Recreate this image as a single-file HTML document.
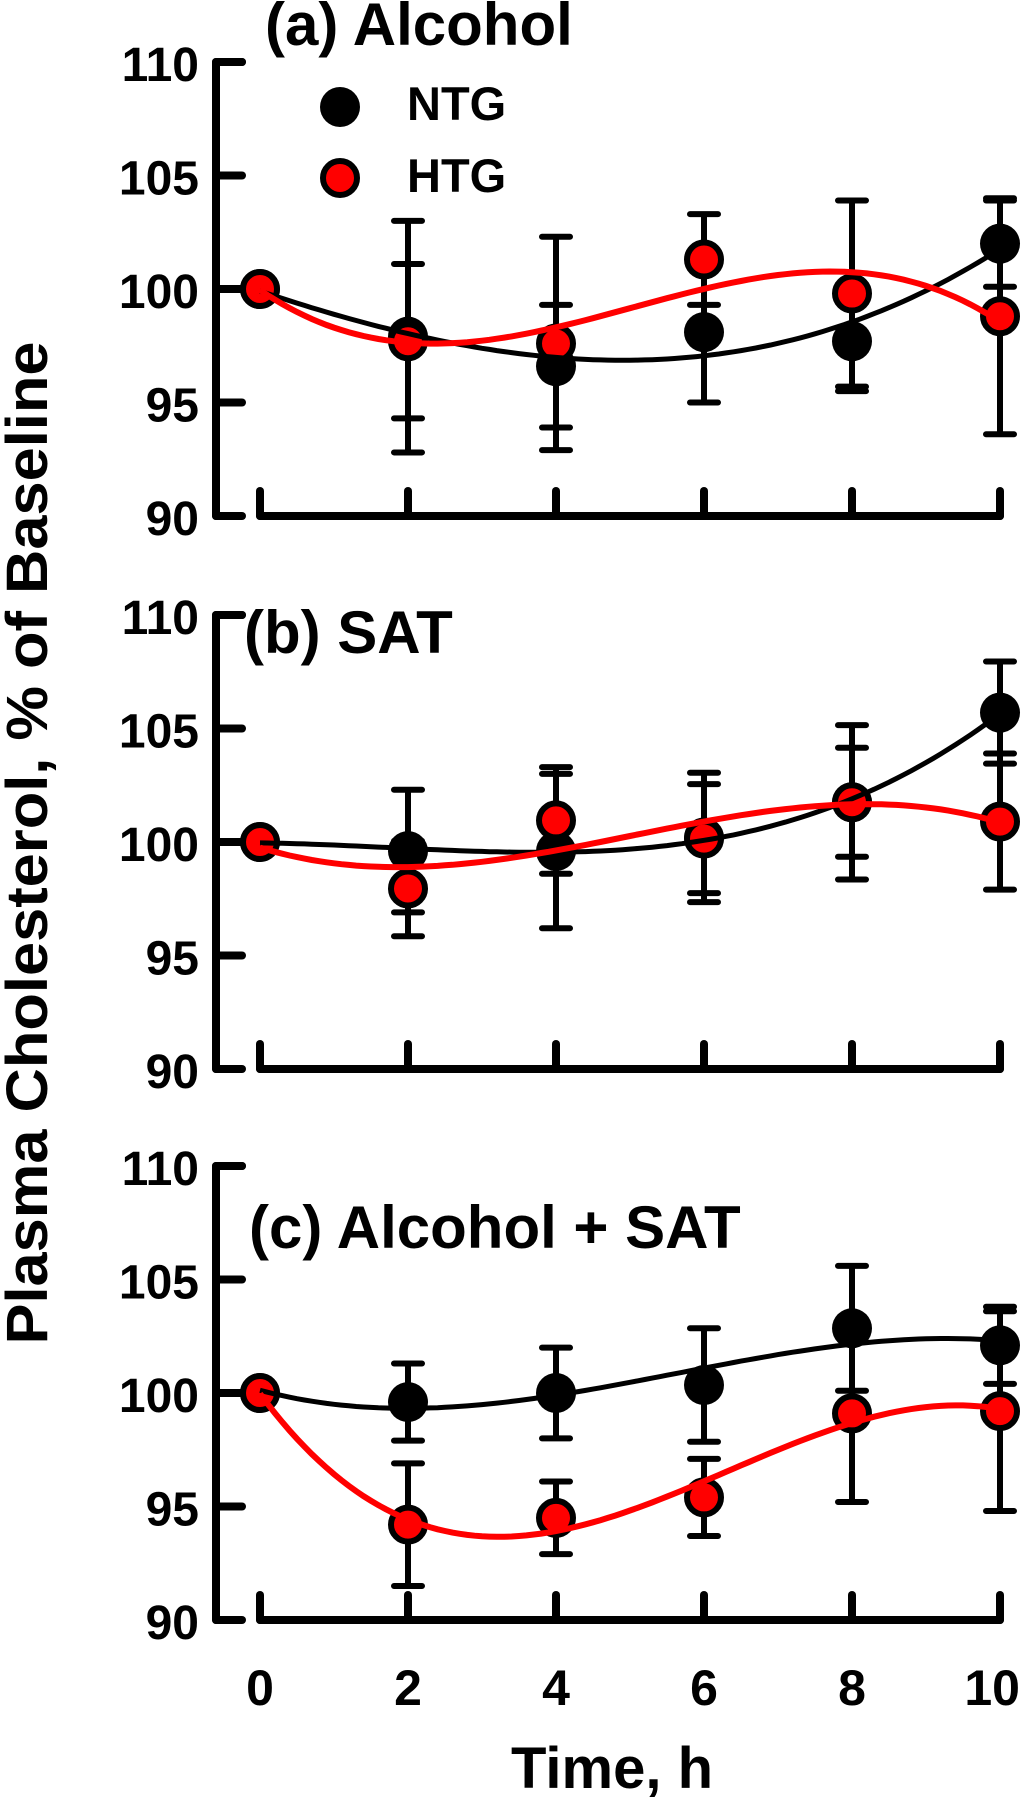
<!DOCTYPE html>
<html><head><meta charset="utf-8">
<style>
html,body{margin:0;padding:0;background:#fff;}
svg text{font-family:"Liberation Sans",Arial,sans-serif;font-weight:bold;fill:#000;}
</style></head>
<body>
<svg id="chart" width="1022" height="1800" viewBox="0 0 1022 1800" xmlns="http://www.w3.org/2000/svg">
<text transform="translate(47,843) rotate(-90)" text-anchor="middle" font-size="58" textLength="1003" lengthAdjust="spacingAndGlyphs">Plasma Cholesterol, % of Baseline</text>
<text x="713" y="1788" text-anchor="end" font-size="58">Time, h</text>
<text x="265" y="45" font-size="60">(a) Alcohol</text>
<text x="244" y="653" font-size="60">(b) SAT</text>
<text x="249" y="1248" font-size="60">(c) Alcohol + SAT</text>
<g>
 <circle cx="340" cy="107" r="20" fill="#000"/>
 <text x="407" y="120" font-size="47">NTG</text>
 <circle cx="340" cy="178" r="17" fill="#f00" stroke="#000" stroke-width="6"/>
 <text x="407" y="192" font-size="47">HTG</text>
</g>
<g id="plots"></g>
</svg>
<script>
const times = [0, 2, 4, 6, 8, 10];
const yTicks = [90, 95, 100, 105, 110];
const xTickLabels = ["0", "2", "4", "6", "8", "10"];
const panelNames = ["a", "b", "c"];
const ntgA = [100, 97.9, 96.6, 98.1, 97.7, 102.0];
const ntgErrA = [0, 5.1, 2.7, 3.1, 2.2, 1.9];
const htgA = [100, 97.7, 97.6, 101.3, 99.8, 98.8];
const htgErrA = [0, 3.4, 4.7, 2.0, 4.1, 5.2];
const ntgB = [100, 99.6, 99.6, 100.2, 101.75, 105.7];
const ntgErrB = [0, 2.7, 3.4, 2.85, 3.4, 2.25];
const htgB = [100, 97.95, 100.95, 100.15, 101.75, 100.9];
const htgErrB = [0, 2.1, 2.35, 2.4, 2.4, 3.0];
const ntgC = [100, 99.6, 100.0, 100.35, 102.85, 102.1];
const ntgErrC = [0, 1.7, 2.0, 2.5, 2.75, 1.7];
const htgC = [100, 94.2, 94.5, 95.4, 99.1, 99.2];
const htgErrC = [0, 2.7, 1.6, 1.7, 3.9, 4.4];

const NS = "http://www.w3.org/2000/svg";
const root = document.getElementById('plots');
const panelTop = [62, 615, 1166];
const unitPx = 22.7;
function xs(t){ return 260 + t*74; }
function mk(tag, attrs, parent){ const e=document.createElementNS(NS,tag); for(const k in attrs) e.setAttribute(k,attrs[k]); parent.appendChild(e); return e; }

function cubicFit(x, y){
  const n=4, A=[], b=[];
  for(let i=0;i<n;i++){ A.push(new Array(n).fill(0)); b.push(0); }
  for(let k=0;k<x.length;k++){ for(let i=0;i<n;i++){ b[i]+=y[k]*Math.pow(x[k],i); for(let j=0;j<n;j++) A[i][j]+=Math.pow(x[k],i+j); } }
  for(let i=0;i<n;i++){ let p=i; for(let r=i+1;r<n;r++) if(Math.abs(A[r][i])>Math.abs(A[p][i])) p=r;
    [A[i],A[p]]=[A[p],A[i]]; [b[i],b[p]]=[b[p],b[i]];
    for(let r=0;r<n;r++){ if(r===i) continue; const f=A[r][i]/A[i][i]; for(let c=i;c<n;c++) A[r][c]-=f*A[i][c]; b[r]-=f*b[i]; } }
  return b.map((v,i)=>v/A[i][i]);
}

const allSeries = [[ntgA,ntgErrA,htgA,htgErrA],[ntgB,ntgErrB,htgB,htgErrB],[ntgC,ntgErrC,htgC,htgErrC]];

panelNames.forEach((pn, pi) => {
  const top = panelTop[pi];
  const ys = v => top + (110 - v)*unitPx;
  const g = mk('g', {}, root);
  
  
  const y90 = ys(90);
  const ya = mk('path', {d:`M242 ${ys(110)} H216 V${y90} H233`, fill:'none', stroke:'#000', 'stroke-width':8, 'stroke-linecap':'round', 'stroke-linejoin':'round'}, g);
  
  
  yTicks.forEach(v => {
    const t = mk('line', {x1:216, x2:242, y1:ys(v), y2:ys(v), stroke:'#000', 'stroke-width':8, 'stroke-linecap':'round'}, g);
    
    
    const l = mk('text', {x:199, y:ys(v)+19, 'text-anchor':'end', 'font-size':48}, g);
    l.textContent = v;
    
    
  });
  const xa = mk('line', {x1:xs(0), x2:xs(10), y1:y90, y2:y90, stroke:'#000', 'stroke-width':8, 'stroke-linecap':'round'}, g);
  
  
  times.forEach((t, i) => {
    const tk = mk('line', {x1:xs(t), x2:xs(t), y1:y90, y2:y90-25, stroke:'#000', 'stroke-width':8, 'stroke-linecap':'round'}, g);
    
    
    if (pi === 2) {
      const last = i === times.length - 1;
      const l = mk('text', {x: last ? 1020 : xs(t), y:1705, 'text-anchor': last ? 'end' : 'middle', 'font-size':50}, g);
      l.textContent = xTickLabels[i];
      
      
    }
  });
  const [nv, ne, hv, he] = allSeries[pi];
  [[nv,ne,'ntg'],[hv,he,'htg']].forEach(([vals, errs, nm]) => {
    times.forEach((t, i) => {
      if (!errs[i]) return;
      const x = xs(t), yt = ys(vals[i]+errs[i]), yb = ys(vals[i]-errs[i]);
      const eb = mk('path', {d:`M${x} ${yt} V${yb} M${x-14} ${yt} H${x+14} M${x-14} ${yb} H${x+14}`, stroke:'#000', 'stroke-width':6, 'stroke-linecap':'round', fill:'none'}, g);
      
      
    });
  });
  times.forEach((t, i) => {
    const c = mk('circle', {cx:xs(t), cy:ys(nv[i]), r:20, fill:'#000'}, g);
    
    
  });
  times.forEach((t, i) => {
    const c = mk('circle', {cx:xs(t), cy:ys(hv[i]), r:17, fill:'#f00', stroke:'#000', 'stroke-width':6}, g);
    
    
  });
  [[nv,'#000',5,'ntg'],[hv,'#f00',6,'htg']].forEach(([vals, col, w, nm]) => {
    const co = cubicFit(times, vals);
    let d = '';
    for (let s = 0; s <= 100; s++) {
      const t = s/10;
      const v = co[0] + co[1]*t + co[2]*t*t + co[3]*t*t*t;
      d += (s ? 'L' : 'M') + xs(t).toFixed(1) + ' ' + ys(v).toFixed(1);
    }
    const p = mk('path', {d:d, fill:'none', stroke:col, 'stroke-width':w}, g);
    
    
  });
});
</script>
</body></html>
